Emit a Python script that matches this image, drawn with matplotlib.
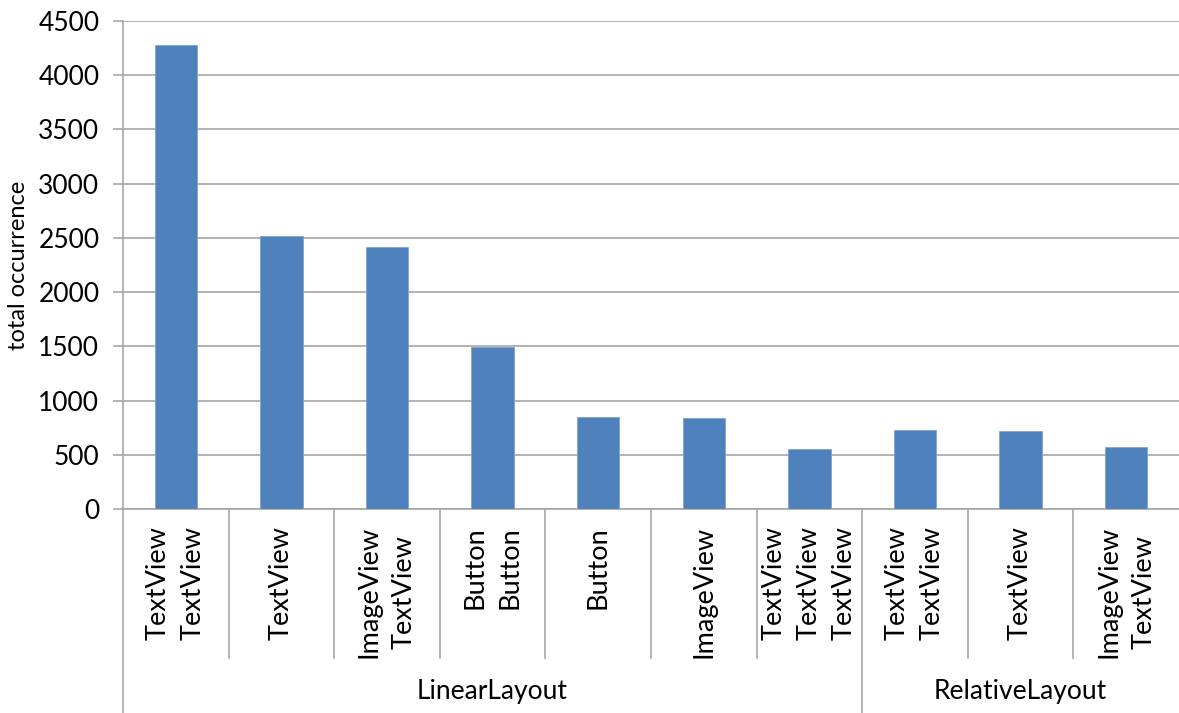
import matplotlib
matplotlib.use('Agg')
import matplotlib.pyplot as plt
import matplotlib.transforms as mtransforms

# data
layouts = ['LinearLayout', 'RelativeLayout']
layout_sizes = [7, 3]
children = ['TextView\nTextView', 'TextView', 'ImageView\nTextView', 'Button\nButton',
            'Button', 'ImageView', 'TextView\nTextView\nTextView',
            'TextView\nTextView', 'TextView', 'ImageView\nTextView']
occurrence = [4275, 2520, 2415, 1495, 852, 843, 555, 731, 720, 570]
yticks = [0, 500, 1000, 1500, 2000, 2500, 3000, 3500, 4000, 4500]

plt.rcParams['font.family'] = ['Lato', 'DejaVu Sans']

fig = plt.figure(figsize=(11.79, 7.13), dpi=100)
W, H = 1179, 713
ax = fig.add_axes([123 / W, (H - 509) / H, (1179 - 123) / W, (509 - 21) / H])

xs = list(range(len(occurrence)))
ax.bar(xs, occurrence, width=0.4, color='#4F81BD', edgecolor='#7FA3D3', linewidth=0.6, zorder=3)

ax.set_xlim(-0.5, len(occurrence) - 0.5)
ax.set_ylim(0, 4500)
ax.set_yticks(yticks)
ax.set_yticklabels([str(v) for v in yticks], fontsize=19)
ax.yaxis.grid(True, color='#a6a6a6', linewidth=1.2, zorder=0)
ax.tick_params(axis='y', direction='out', length=7, width=1.2, color='#a6a6a6', pad=10)
ax.set_xticks([])
for s in ['top', 'right']:
    ax.spines[s].set_visible(False)
for s in ['left', 'bottom']:
    ax.spines[s].set_color('#a6a6a6')
    ax.spines[s].set_linewidth(1.2)
ax.set_ylabel('total occurrence', fontsize=17, labelpad=7)

# multi-level category axis
trans = mtransforms.blended_transform_factory(ax.transData, ax.transAxes)
axh = 509 - 21
y_sep = -(658 - 509) / axh
y_bot = -(713 - 509) / axh
for x, lab in zip(xs, children):
    ax.text(x, -(526 - 509) / axh, lab, transform=trans, rotation=90, ha='center', va='top',
            multialignment='center', fontsize=19.5, linespacing=1.5)

start = 0
bounds = []
for name, n in zip(layouts, layout_sizes):
    end = start + n
    for b in range(start, end - 1):
        ax.plot([b + 0.5, b + 0.5], [0, y_sep], transform=trans, color='#a6a6a6',
                linewidth=1.2, clip_on=False)
    ax.text((start + end - 1) / 2, -(692 - 509) / axh, name, transform=trans,
            ha='center', va='center', fontsize=19)
    bounds.append(start - 0.5)
    start = end
for b in bounds:
    ax.plot([b, b], [0, y_bot], transform=trans, color='#a6a6a6', linewidth=1.2, clip_on=False)

fig.savefig('out.png', dpi=100)
